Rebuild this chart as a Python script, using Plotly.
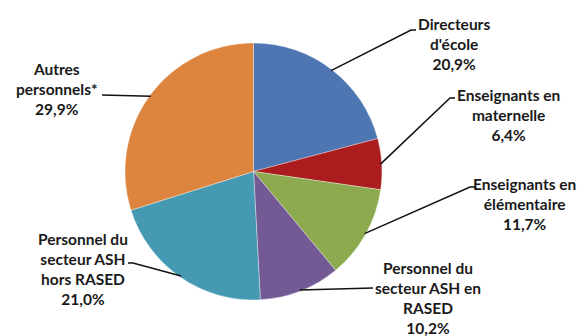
import math
import plotly.graph_objects as go

labels = ["Directeurs d'école", "Enseignants en maternelle", "Enseignants en élémentaire",
          "Personnel du secteur ASH en RASED", "Personnel du secteur ASH hors RASED", "Autres personnels*"]
values = [20.9, 6.4, 11.7, 10.2, 21.0, 29.9]
label_text = ["Directeurs<br>d'école", "Enseignants en<br>maternelle", "Enseignants en<br>élémentaire",
              "Personnel du<br>secteur ASH en<br>RASED", "Personnel du<br>secteur ASH<br>hors RASED",
              "Autres<br>personnels*"]
colors = ["#4E76B2", "#AA1C1E", "#8DAA4F", "#745A95", "#4699B3", "#DD853F"]

W, H = 586, 336
CX, CY, R = 253.5, 171.5, 128.5  # pie geometry in pixels (layout)

# label layout (pixels): text center, elbow point, line end near text
text_pos = [(454, 44), (508, 115), (524, 204), (428, 298), (83, 269), (57, 89)]
elbows = [(411, 30), (450, 98), (470, 187), (373, 288), (133, 263), (102, 95)]
ends = [(416, 30), (455, 98), (475, 187), (373, 288), (128, 263), (102, 95)]


def px(x):
    return x / W


def py(y):
    return 1 - y / H


fig = go.Figure(go.Pie(
    labels=labels, values=values, sort=False, direction="clockwise", rotation=0,
    marker=dict(colors=colors, line=dict(color="rgba(255,255,255,0.6)", width=0.6)),
    textinfo="none", hoverinfo="label+percent", showlegend=False,
    domain=dict(x=[px(CX - R), px(CX + R)], y=[py(CY + R), py(CY - R)]),
))

total = sum(values)
shapes = []
annotations = []
cum = 0.0
for i, v in enumerate(values):
    mid = (cum + v / 2) / total * 2 * math.pi
    cum += v
    ax = CX + R * 0.99 * math.sin(mid)
    ay = CY - R * 0.99 * math.cos(mid)
    ex, ey = elbows[i]
    tx, ty = ends[i]
    path = f"M {px(ax)},{py(ay)} L {px(ex)},{py(ey)} L {px(tx)},{py(ty)}"
    shapes.append(dict(type="path", path=path, xref="paper", yref="paper",
                       line=dict(color="#111111", width=1.5)))
    cx, cy = text_pos[i]
    annotations.append(dict(
        text=f"<b>{label_text[i]}<br>{str(v).replace('.', ',')}%</b>",
        x=px(cx), y=py(cy), xref="paper", yref="paper", showarrow=False,
        xanchor="center", yanchor="middle", align="center",
        font=dict(family="Lato, Carlito, Arial", size=15.5, color="#1a1a1a"),
    ))

fig.update_layout(
    width=W, height=H, margin=dict(l=0, r=0, t=0, b=0),
    paper_bgcolor="white", plot_bgcolor="white",
    shapes=shapes, annotations=annotations,
)
fig.write_html("out.html", config={"displayModeBar": False},
               post_script="document.body.style.margin='0';document.body.style.overflow='hidden';")
